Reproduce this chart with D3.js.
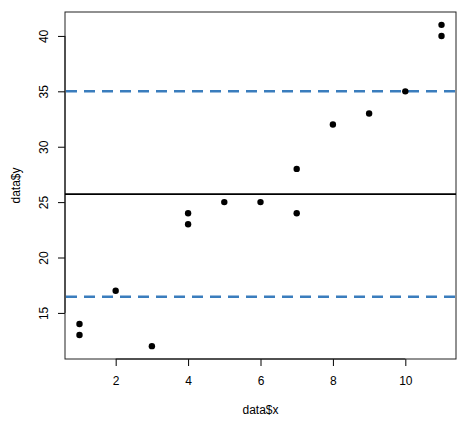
<!DOCTYPE html>
<html>
<head>
<meta charset="utf-8">
<script src="https://cdn.jsdelivr.net/npm/d3@7"></script>
<style>
  body { margin: 0; background: #fff; }
  text { font-family: "Liberation Sans", Arial, sans-serif; }
</style>
</head>
<body>
<svg width="469" height="422"></svg>
<script>
// data
const xs = [1, 1, 2, 3, 4, 4, 5, 6, 7, 7, 8, 9, 10, 11, 11];
const ys = [14, 13, 17, 12, 24, 23, 25, 25, 28, 24, 32, 33, 35, 41, 40];
const meanLine = [25.73];
const limitLines = [35.0, 16.46];
const xTicks = [2, 4, 6, 8, 10];
const yTicks = [15, 20, 25, 30, 35, 40];

const svg = d3.select("svg");
const plotLeft = 65, plotRight = 456, plotTop = 12, plotBottom = 359;

// R style 4% padding
const xPad = (d3.max(xs) - d3.min(xs)) * 0.04;
const yPad = (d3.max(ys) - d3.min(ys)) * 0.04;
const x = d3.scaleLinear()
    .domain([d3.min(xs) - xPad, d3.max(xs) + xPad])
    .range([plotLeft, plotRight]);
const y = d3.scaleLinear()
    .domain([d3.min(ys) - yPad, d3.max(ys) + yPad])
    .range([plotBottom, plotTop]);

// x axis
const xAxis = svg.append("g")
    .attr("transform", `translate(0, ${plotBottom})`)
    .call(d3.axisBottom(x).tickValues(xTicks).tickSize(7).tickPadding(10).tickSizeOuter(0));
xAxis.select(".domain").remove();
xAxis.append("line")
    .attr("x1", x(xTicks[0])).attr("x2", x(xTicks[xTicks.length - 1]))
    .attr("stroke", "black");
xAxis.selectAll("text").attr("font-size", 12).attr("fill", "#000")
    .attr("font-family", "Liberation Sans, Arial, sans-serif");

// y axis
const yAxis = svg.append("g")
    .attr("transform", `translate(${plotLeft}, 0)`)
    .call(d3.axisLeft(y).tickValues(yTicks).tickSize(7).tickSizeOuter(0));
yAxis.select(".domain").remove();
yAxis.append("line")
    .attr("y1", y(yTicks[0])).attr("y2", y(yTicks[yTicks.length - 1]))
    .attr("stroke", "black");
yAxis.selectAll(".tick text")
    .attr("font-size", 12).attr("fill", "#000")
    .attr("font-family", "Liberation Sans, Arial, sans-serif")
    .attr("x", null).attr("dy", null)
    .attr("text-anchor", "middle")
    .attr("transform", "translate(-17, 0) rotate(-90)");

// box
svg.append("rect")
    .attr("x", plotLeft).attr("y", plotTop)
    .attr("width", plotRight - plotLeft).attr("height", plotBottom - plotTop)
    .attr("fill", "none").attr("stroke", "#222");

// axis titles
svg.append("text")
    .attr("x", (plotLeft + plotRight) / 2).attr("y", 414)
    .attr("text-anchor", "middle").attr("font-size", 12)
    .text("data$x");
svg.append("text")
    .attr("transform", `translate(20, ${(plotTop + plotBottom) / 2}) rotate(-90)`)
    .attr("text-anchor", "middle").attr("font-size", 12)
    .text("data$y");

// reference lines
svg.selectAll(".limit")
    .data(limitLines)
    .enter()
    .append("line")
    .attr("class", "limit")
    .attr("x1", plotLeft + 1).attr("x2", plotRight - 1)
    .attr("y1", d => y(d)).attr("y2", d => y(d))
    .attr("stroke", "#3a7dbd")
    .attr("stroke-width", 2.5)
    .attr("stroke-dasharray", "11,7");

svg.selectAll(".mean")
    .data(meanLine)
    .enter()
    .append("line")
    .attr("class", "mean")
    .attr("x1", plotLeft).attr("x2", plotRight)
    .attr("y1", d => y(d)).attr("y2", d => y(d))
    .attr("stroke", "black")
    .attr("stroke-width", 1.8);

// points
svg.selectAll(".pt")
    .data(xs.map((d, i) => [d, ys[i]]))
    .enter()
    .append("circle")
    .attr("class", "pt")
    .attr("cx", d => x(d[0]))
    .attr("cy", d => y(d[1]))
    .attr("r", 3.2)
    .attr("fill", "black");
</script>
</body>
</html>
